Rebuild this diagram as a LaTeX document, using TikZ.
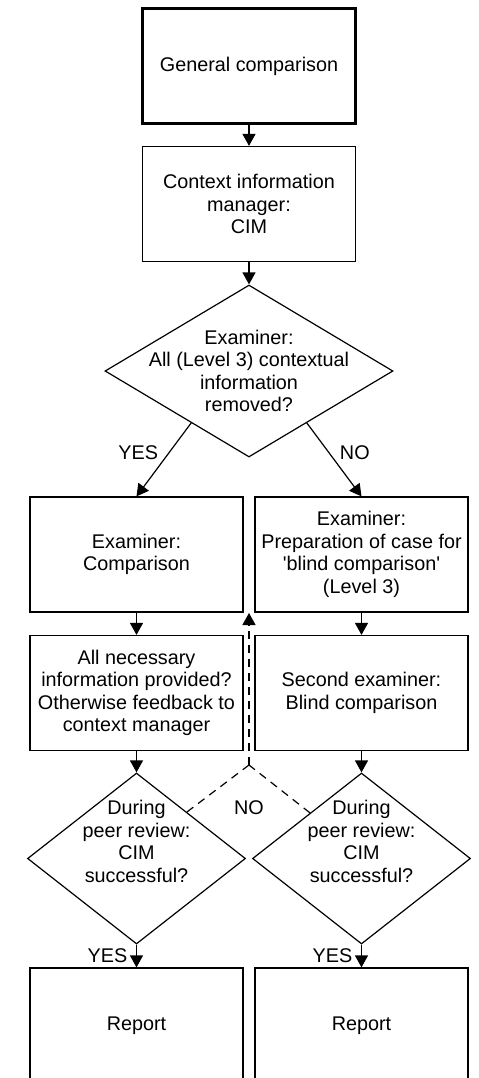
\documentclass[tikz,border=0pt]{standalone}
\usepackage{fontspec}
\setmainfont{Liberation Sans}
\usetikzlibrary{calc}
\usetikzlibrary{shapes.geometric}
\usetikzlibrary{arrows.meta}

\begin{document}
\begin{tikzpicture}[x=0.5pt,y=-0.5pt,>={Triangle[width=6.5pt,length=6pt]},
    font=\fontsize{9.9}{11.25}\selectfont,
    box/.style={draw,line width=0.6pt,minimum width=106.5pt,minimum height=57.5pt,align=center,inner sep=2pt},
    decision/.style={draw,diamond,line width=0.6pt,inner sep=0pt},
    dtext/.style={align=center,inner sep=0pt},
    flow/.style={->,line width=0.6pt},
    feedback/.style={line width=0.6pt,dash pattern=on 4pt off 3pt}]

    \useasboundingbox (0,0) rectangle (478,1078);

    % Les boites du haut
    \node[box,line width=1.5pt] (general) at (249,66) {General comparison};
    \node[box] (cim) at (249,204) {Context information\\manager:\\CIM};

    % Premiere decision
    \node[decision,minimum width=144pt,minimum height=86pt,
        label={[dtext]center:{Examiner:\\All (Level 3) contextual\\information\\removed?}}] (removed) at (249,371) {};

    % Les deux colonnes
    \node[box] (compare) at (136.5,554.5) {Examiner:\\Comparison};
    \node[box] (prepare) at (361.5,554.5) {Examiner:\\Preparation of case for\\\textquotesingle blind comparison\textquotesingle\\(Level 3)};
    \node[box] (provided) at (136.5,693) {All necessary\\information provided?\\Otherwise feedback to\\context manager};
    \node[box] (blind) at (361.5,693) {Second examiner:\\Blind comparison};

    % Decisions de la revue
    \node[decision,minimum width=109pt,minimum height=85.5pt,
        label={[dtext,yshift=8.5pt]center:{During\\peer review:\\CIM\\successful?}}] (reviewA) at (136.5,858.5) {};
    \node[decision,minimum width=109pt,minimum height=85.5pt,
        label={[dtext,yshift=8.5pt]center:{During\\peer review:\\CIM\\successful?}}] (reviewB) at (361.5,858.5) {};

    % Rapports (coupes en bas)
    \node[box] (reportA) at (136.5,1025.5) {Report};
    \node[box] (reportB) at (361.5,1025.5) {Report};

    % Les fleches
    \draw[flow] (general) -- (cim);
    \draw[flow] (cim) -- (removed);
    \draw[flow] ($(removed.west)!0.6!(removed.south)$) -- (compare.north) node[pos=0.4,left=2pt] {YES};
    \draw[flow] ($(removed.east)!0.6!(removed.south)$) -- (prepare.north) node[pos=0.4,right=2pt] {NO};
    \draw[flow] (compare) -- (provided);
    \draw[flow] (prepare) -- (blind);
    \draw[flow] (provided) -- (reviewA);
    \draw[flow] (blind) -- (reviewB);
    \draw[flow] (reviewA) -- (reportA) node[midway,left=1pt] {YES};
    \draw[flow] (reviewB) -- (reportB) node[midway,left=1pt] {YES};

    % Retour en pointilles
    \coordinate (join) at (249,765);
    \coordinate (back) at (249,613);
    \draw[feedback] ($(reviewA.north)!0.46!(reviewA.east)$) -- (join);
    \draw[feedback] ($(reviewB.north)!0.47!(reviewB.west)$) -- (join);
    \draw[feedback,->] (join) -- (back);
    \node (no) at (249,808) {NO};
\end{tikzpicture}
\end{document}
